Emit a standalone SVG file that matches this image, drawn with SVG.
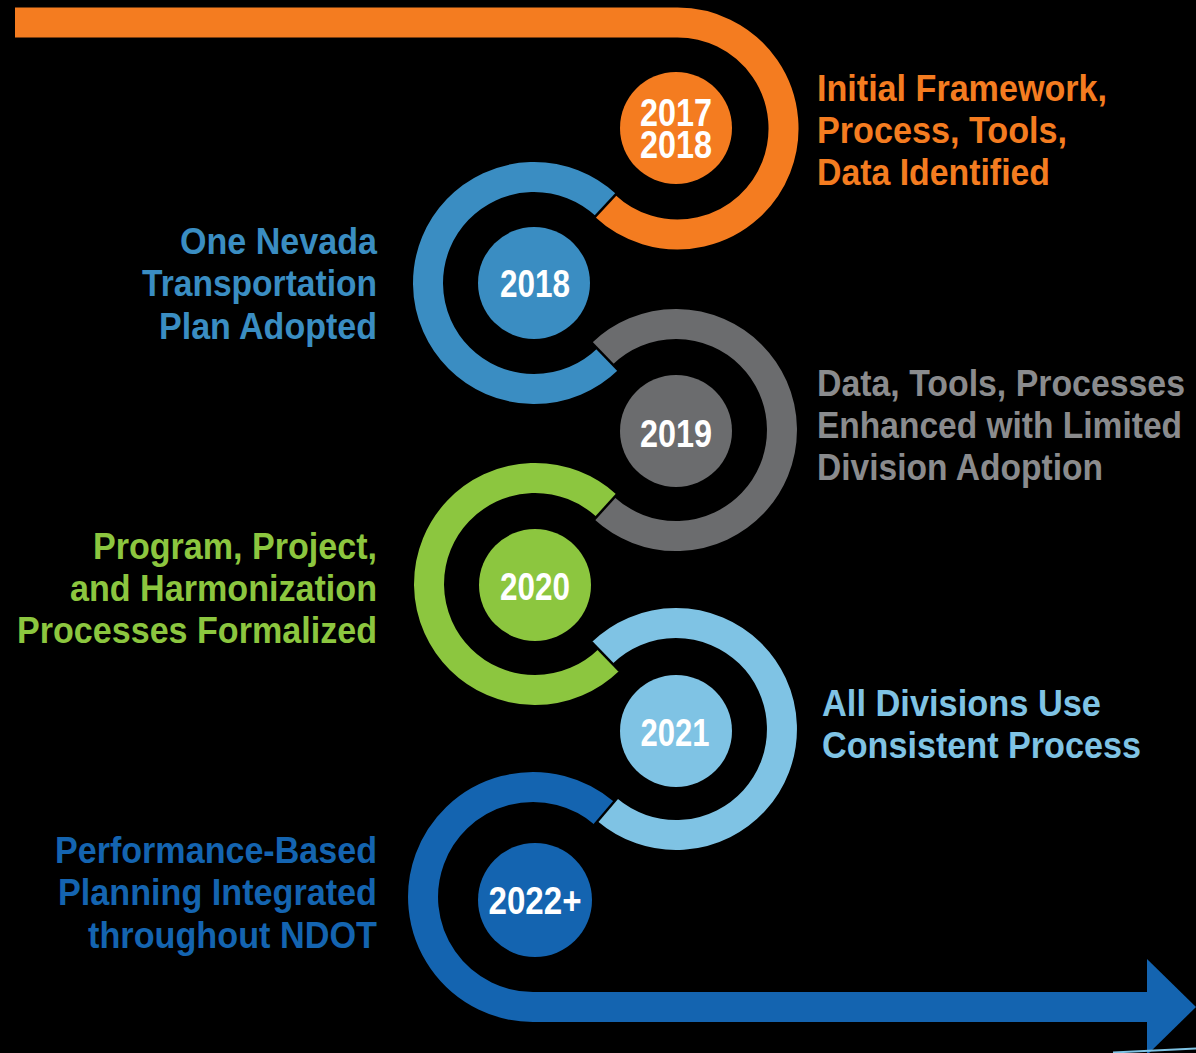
<svg xmlns="http://www.w3.org/2000/svg" width="1196" height="1053" viewBox="0 0 1196 1053">
  <style>
    .band { fill: none; stroke-width: 30; stroke-linecap: butt; }
    .cut { stroke: #000; stroke-width: 2.5; }
    .yr { font-family: "Liberation Sans", Arial, sans-serif; font-weight: bold; font-size: 39px; fill: #fff; text-anchor: middle; }
    .lbl { font-family: "Liberation Sans", Arial, sans-serif; font-weight: bold; font-size: 37px; }
    .r { text-anchor: end; }
    .orange { fill: #F47C20; } .orangeS { stroke: #F47C20; }
    .blue { fill: #3A8DC2; } .blueS { stroke: #3A8DC2; }
    .gray { fill: #6B6C6E; } .grayS { stroke: #6B6C6E; }
    .green { fill: #8CC63F; } .greenS { stroke: #8CC63F; }
    .sky { fill: #7FC3E4; } .skyS { stroke: #7FC3E4; }
    .navy { fill: #1464B0; } .navyS { stroke: #1464B0; }
  </style>
  <rect width="1196" height="1053" fill="#000"/>

  <!-- winding timeline band -->
  <g id="connectors">
    <path class="band orangeS" d="M15 22.5 H677 A106 106 0 1 1 605.1 205.9" stroke-width="31"/>
    <path class="band blueS" d="M605.9 205.1 A106 106 0 1 0 607.7 359.2"/>
    <path class="band grayS" d="M602.3 353.8 A106 106 0 1 1 604.4 508.2"/>
    <path class="band greenS" d="M606.6 505.8 A106 106 0 1 0 608.9 660"/>
    <path class="band skyS" d="M602.1 653 A106 106 0 1 1 607.3 809.8"/>
    <path class="band navyS" d="M604.3 813.2 A110 110 0 1 0 533 1007 H1150" stroke-width="31"/>
    <polygon class="navy" points="1147,959 1196,1007 1147,1055"/>
    <line x1="1113" y1="1052.5" x2="1196" y2="1048.5" stroke="#7FC3E4" stroke-width="2"/>
    <!-- thin cuts where one colour hands over to the next -->
    <line class="cut" x1="591.9" y1="220.2" x2="619.1" y2="190.8"/>
    <line class="cut" x1="591.1" y1="342.1" x2="618.9" y2="370.9"/>
    <line class="cut" x1="592" y1="521.8" x2="619" y2="492.2"/>
    <line class="cut" x1="591.6" y1="642.2" x2="619.4" y2="670.8"/>
    <line class="cut" x1="592.8" y1="826.7" x2="618.8" y2="796.3"/>
  </g>

  <g id="m2017">
    <circle class="orange" cx="676" cy="128" r="56"/>
    <text class="yr" font-size="36"><tspan x="676" y="126" textLength="72" lengthAdjust="spacingAndGlyphs">2017</tspan><tspan x="676" y="158" textLength="72" lengthAdjust="spacingAndGlyphs">2018</tspan></text>
    <text class="lbl orange" x="817" y="101" font-size="39" textLength="290" lengthAdjust="spacingAndGlyphs">Initial Framework,</text>
    <text class="lbl orange" x="817" y="143" font-size="39" textLength="250" lengthAdjust="spacingAndGlyphs">Process, Tools,</text>
    <text class="lbl orange" x="817" y="185" font-size="39" textLength="233" lengthAdjust="spacingAndGlyphs">Data Identified</text>
  </g>

  <g id="m2018">
    <circle class="blue" cx="534" cy="283" r="56"/>
    <text class="yr" x="535" y="296.5" textLength="70" lengthAdjust="spacingAndGlyphs">2018</text>
    <text class="lbl r blue" x="377" y="254" textLength="197" lengthAdjust="spacingAndGlyphs">One Nevada</text>
    <text class="lbl r blue" x="377" y="296" textLength="235" lengthAdjust="spacingAndGlyphs">Transportation</text>
    <text class="lbl r blue" x="377" y="339" textLength="218" lengthAdjust="spacingAndGlyphs">Plan Adopted</text>
  </g>

  <g id="m2019">
    <circle class="gray" cx="676" cy="431" r="56"/>
    <text class="yr" x="676" y="447" textLength="72" lengthAdjust="spacingAndGlyphs">2019</text>
    <text class="lbl" font-size="34" fill="#8A8B8D" x="817" y="396" textLength="368" lengthAdjust="spacingAndGlyphs">Data, Tools, Processes</text>
    <text class="lbl" font-size="34" fill="#8A8B8D" x="817" y="438" textLength="365" lengthAdjust="spacingAndGlyphs">Enhanced with Limited</text>
    <text class="lbl" font-size="34" fill="#8A8B8D" x="817" y="480" textLength="286" lengthAdjust="spacingAndGlyphs">Division Adoption</text>
  </g>

  <g id="m2020">
    <circle class="green" cx="535" cy="585" r="56"/>
    <text class="yr" x="535" y="600" textLength="70" lengthAdjust="spacingAndGlyphs">2020</text>
    <text class="lbl r green" x="377" y="559" textLength="284" lengthAdjust="spacingAndGlyphs">Program, Project,</text>
    <text class="lbl r green" x="377" y="601" textLength="307" lengthAdjust="spacingAndGlyphs">and Harmonization</text>
    <text class="lbl r green" x="377" y="643" textLength="360" lengthAdjust="spacingAndGlyphs">Processes Formalized</text>
  </g>

  <g id="m2021">
    <circle class="sky" cx="676" cy="731" r="56"/>
    <text class="yr" x="675" y="746" textLength="69" lengthAdjust="spacingAndGlyphs">2021</text>
    <text class="lbl sky" x="822" y="716" textLength="279" lengthAdjust="spacingAndGlyphs">All Divisions Use</text>
    <text class="lbl sky" x="822" y="758" textLength="319" lengthAdjust="spacingAndGlyphs">Consistent Process</text>
  </g>

  <g id="m2022">
    <circle class="navy" cx="535" cy="900" r="57"/>
    <text class="yr" x="535" y="914" textLength="93" lengthAdjust="spacingAndGlyphs">2022+</text>
    <text class="lbl r navy" x="377" y="863" textLength="322" lengthAdjust="spacingAndGlyphs">Performance-Based</text>
    <text class="lbl r navy" x="377" y="905" textLength="319" lengthAdjust="spacingAndGlyphs">Planning Integrated</text>
    <text class="lbl r navy" x="377" y="948" textLength="289" lengthAdjust="spacingAndGlyphs">throughout NDOT</text>
  </g>
</svg>
